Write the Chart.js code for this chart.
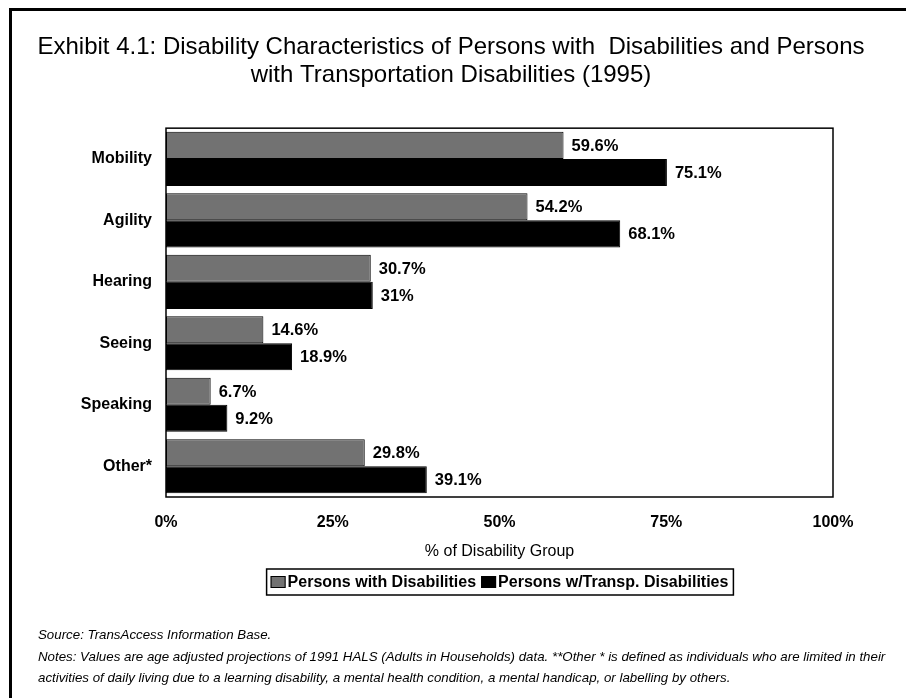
<!DOCTYPE html>
<html>
<head>
<meta charset="utf-8">
<script src="https://cdn.jsdelivr.net/npm/chart.js@4.4.1/dist/chart.umd.min.js"></script>
<style>
  html, body { margin: 0; padding: 0; background: #fff; }
  #wrap { position: relative; width: 906px; height: 698px; overflow: hidden; }
  #frame { position: absolute; left: 9px; top: 8px; width: 920px; height: 720px;
           border-left: 3px solid #000; border-top: 3px solid #000; box-sizing: border-box; }
  canvas { position: absolute; left: 0; top: 0; }
</style>
</head>
<body>
<div id="wrap">
  <div id="frame"></div>
  <canvas id="chart" width="906" height="698"></canvas>
</div>
<script>
const categories = ['Mobility', 'Agility', 'Hearing', 'Seeing', 'Speaking', 'Other*'];
const allDisabilities = [59.6, 54.2, 30.7, 14.6, 6.7, 29.8];
const transpDisabilities = [75.1, 68.1, 31, 18.9, 9.2, 39.1];
const seriesNames = ['Persons with Disabilities', 'Persons w/Transp. Disabilities'];
const xTicks = [0, 25, 50, 75, 100];

const titleLines = [
    'Exhibit 4.1: Disability Characteristics of Persons with  Disabilities and Persons',
    'with Transportation Disabilities (1995)'
];
const noteLines = [
    'Source: TransAccess Information Base.',
    'Notes: Values are age adjusted projections of 1991 HALS (Adults in Households) data. **Other * is defined as individuals who are limited in their',
    'activities of daily living due to a learning disability, a mental health condition, a mental handicap, or labelling by others.'
];

const FONT = '"Liberation Sans", Arial, Helvetica, sans-serif';

// value labels to the right of each bar
const valueLabels = {
    id: 'valueLabels',
    afterDatasetsDraw(chart) {
        const ctx = chart.ctx;
        ctx.save();
        ctx.font = 'bold 16.5px ' + FONT;
        ctx.fillStyle = '#000';
        ctx.textBaseline = 'middle';
        ctx.textAlign = 'left';
        chart.data.datasets.forEach((ds, i) => {
            chart.getDatasetMeta(i).data.forEach((bar, j) => {
                ctx.fillText(ds.data[j] + '%', bar.x + 8, bar.y + 1);
            });
        });
        // plot frame
        const a = chart.chartArea;
        ctx.strokeStyle = '#000';
        ctx.lineWidth = 1.5;
        ctx.strokeRect(a.left, a.top, a.right - a.left, a.bottom - a.top);
        ctx.restore();
    }
};

// boxed legend plus source / notes text
const footer = {
    id: 'footer',
    afterDraw(chart) {
        const ctx = chart.ctx;
        ctx.save();
        ctx.font = 'bold 16px ' + FONT;
        ctx.textBaseline = 'middle';
        const top = 569, h = 26, cy = top + h / 2;
        const items = chart.data.datasets.map(ds => ({
            text: ds.label, fill: ds.backgroundColor
        }));
        let w = 4;
        items.forEach(it => { w += 17 + ctx.measureText(it.text).width + 5; });
        let x = 500 - w / 2;
        ctx.strokeStyle = '#000';
        ctx.lineWidth = 1.5;
        ctx.strokeRect(x, top, w, h);
        x += 4;
        items.forEach(it => {
            ctx.fillStyle = it.fill;
            ctx.fillRect(x, cy - 6, 15, 12);
            ctx.lineWidth = 1;
            ctx.strokeRect(x + 0.5, cy - 5.5, 14, 11);
            x += 17;
            ctx.fillStyle = '#000';
            ctx.fillText(it.text, x, cy + 1);
            x += ctx.measureText(it.text).width + 5;
        });

        ctx.font = 'italic 13.3px ' + FONT;
        ctx.textAlign = 'left';
        const ys = [635, 657, 678];
        noteLines.forEach((t, i) => ctx.fillText(t, 38, ys[i]));
        ctx.restore();
    }
};

new Chart(document.getElementById('chart'), {
    type: 'bar',
    data: {
        labels: categories,
        datasets: [{
            label: seriesNames[0],
            data: allDisabilities,
            backgroundColor: '#727272',
            borderColor: '#000',
            borderWidth: 1,
            borderSkipped: false,
            categoryPercentage: 0.88,
            barPercentage: 1.0
        }, {
            label: seriesNames[1],
            data: transpDisabilities,
            backgroundColor: '#000',
            borderColor: '#000',
            borderWidth: 1,
            borderSkipped: false,
            categoryPercentage: 0.88,
            barPercentage: 1.0
        }]
    },
    options: {
        indexAxis: 'y',
        responsive: false,
        animation: false,
        layout: {padding: {left: 34, right: 38, top: 0, bottom: 135}},
        plugins: {
            legend: {display: false},
            tooltip: {enabled: false},
            title: {
                display: true,
                text: titleLines,
                color: '#000',
                font: {family: FONT, size: 24, weight: 'normal', lineHeight: 1.17},
                padding: {top: 33, bottom: 39}
            }
        },
        scales: {
            x: {
                min: 0,
                max: 100,
                afterBuildTicks(scale) { scale.ticks = xTicks.map(v => ({value: v})); },
                afterFit(scale) { scale.height = 66; },
                grid: {display: false},
                border: {display: false},
                ticks: {
                    color: '#000',
                    padding: 8,
                    font: {family: FONT, size: 16, weight: 'bold'},
                    callback: v => v + '%'
                },
                title: {
                    display: true,
                    text: '% of Disability Group',
                    color: '#000',
                    font: {family: FONT, size: 16, weight: 'normal'},
                    padding: {top: 0, bottom: 2}
                }
            },
            y: {
                afterFit(scale) { scale.width = 132; },
                grid: {display: false},
                border: {display: false},
                ticks: {
                    color: '#000',
                    padding: 6,
                    font: {family: FONT, size: 16, weight: 'bold'}
                }
            },
            // blank margin on the right so the "100%" tick has room
            yRight: {
                type: 'category',
                position: 'right',
                afterFit(scale) { scale.width = 35; },
                grid: {display: false},
                border: {display: false},
                ticks: {display: false}
            }
        }
    },
    plugins: [valueLabels, footer]
});
</script>
</body>
</html>
